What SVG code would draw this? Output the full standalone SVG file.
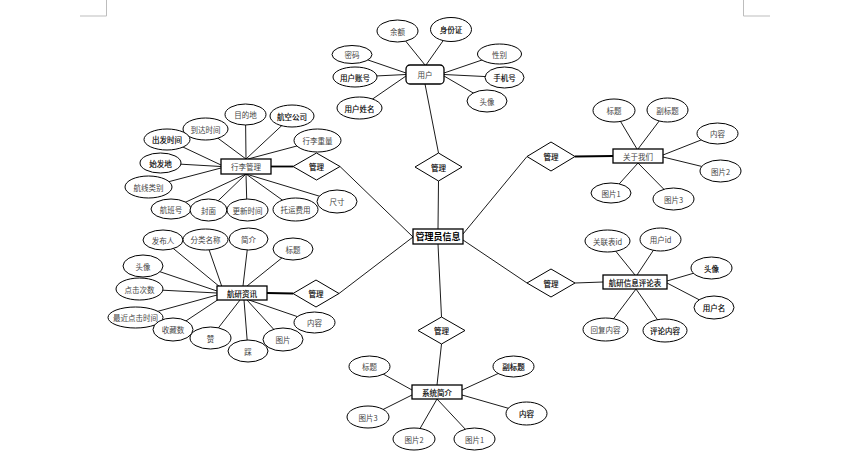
<svg xmlns="http://www.w3.org/2000/svg" width="846" height="459" viewBox="0 0 846 459">
<style>
.e{fill:#fff;stroke:#000;stroke-width:1}
.b{fill:#fff;stroke:#000;stroke-width:1.3}
.d{fill:#fff;stroke:#000;stroke-width:1}
.l{stroke:#000;stroke-width:0.9;fill:none}
.k{stroke:#000;stroke-width:1.8;fill:none}
.c{stroke:#bdbdbd;stroke-width:1;fill:none}
text{font-family:"Noto Sans CJK SC","Noto Sans",sans-serif;font-size:7.5px;text-anchor:middle;dominant-baseline:central;fill:#444}
.m{font-size:9px;font-weight:bold;fill:#000}
.s{fill:#000;stroke:#000;stroke-width:0.15}
</style>
<rect width="846" height="459" fill="#fff"/>
<g id="page-marks">
<polyline class="c" points="106.5,0 106.5,16 80,16"/>
<polyline class="c" points="743.5,0 743.5,16 770,16"/>
</g>
<g id="connectors">
<line class="l" x1="425" y1="84" x2="438.5" y2="153"/>
<line class="l" x1="438.5" y1="181" x2="438" y2="229"/>
<line class="l" x1="340" y1="166.5" x2="413" y2="237"/>
<line class="l" x1="339" y1="293.5" x2="413" y2="237"/>
<line class="l" x1="527" y1="156.5" x2="463" y2="234"/>
<line class="l" x1="527" y1="283" x2="463" y2="240"/>
<line class="l" x1="438" y1="244" x2="441.5" y2="317"/>
<line class="l" x1="441.5" y1="344" x2="437" y2="385"/>
<line class="k" x1="271" y1="166.5" x2="293" y2="166.5"/>
<line class="k" x1="267" y1="293" x2="293" y2="293.5"/>
<line class="k" x1="575" y1="156.5" x2="613" y2="156"/>
<line class="l" x1="575" y1="283" x2="603" y2="282"/>
<line class="l" x1="425" y1="65" x2="397.5" y2="31"/>
<line class="l" x1="426" y1="65" x2="451" y2="29.5"/>
<line class="l" x1="406" y1="73" x2="352" y2="54.5"/>
<line class="l" x1="406" y1="74.5" x2="355" y2="77"/>
<line class="l" x1="406" y1="76" x2="359.5" y2="108"/>
<line class="l" x1="444" y1="73" x2="499.5" y2="54"/>
<line class="l" x1="444" y1="74.5" x2="504.5" y2="77.5"/>
<line class="l" x1="444" y1="76" x2="487" y2="101"/>
<line class="l" x1="246" y1="159" x2="245.5" y2="114.5"/>
<line class="l" x1="246" y1="159" x2="292" y2="116"/>
<line class="l" x1="246" y1="159" x2="205.5" y2="129"/>
<line class="l" x1="248" y1="159" x2="317.5" y2="140.5"/>
<line class="l" x1="221" y1="165" x2="167" y2="139.5"/>
<line class="l" x1="221" y1="166.5" x2="160.5" y2="163"/>
<line class="l" x1="221" y1="168" x2="148.5" y2="187"/>
<line class="l" x1="246" y1="174" x2="171" y2="209"/>
<line class="l" x1="246" y1="174" x2="208.5" y2="210"/>
<line class="l" x1="246" y1="174" x2="247" y2="210"/>
<line class="l" x1="246" y1="174" x2="295.5" y2="209.5"/>
<line class="l" x1="246" y1="174" x2="337" y2="201.5"/>
<line class="l" x1="220" y1="287" x2="163" y2="240"/>
<line class="l" x1="222" y1="287" x2="205.5" y2="239.5"/>
<line class="l" x1="243" y1="286" x2="248.5" y2="239"/>
<line class="l" x1="247" y1="286" x2="293" y2="249"/>
<line class="l" x1="217" y1="291" x2="143" y2="266"/>
<line class="l" x1="217" y1="293" x2="139.5" y2="289"/>
<line class="l" x1="217" y1="295" x2="135.5" y2="317.5"/>
<line class="l" x1="219" y1="299" x2="173" y2="329.5"/>
<line class="l" x1="240" y1="300" x2="210.5" y2="338"/>
<line class="l" x1="244" y1="300" x2="248" y2="351"/>
<line class="l" x1="247" y1="300" x2="283" y2="339.5"/>
<line class="l" x1="249" y1="300" x2="314.5" y2="322.5"/>
<line class="l" x1="637" y1="149" x2="614" y2="110.5"/>
<line class="l" x1="638" y1="149" x2="667.5" y2="110"/>
<line class="l" x1="663" y1="155" x2="717.5" y2="133.5"/>
<line class="l" x1="663" y1="157" x2="720.5" y2="171"/>
<line class="l" x1="638" y1="163" x2="611" y2="193"/>
<line class="l" x1="638" y1="163" x2="673.5" y2="199"/>
<line class="l" x1="635" y1="275" x2="607.5" y2="241"/>
<line class="l" x1="637" y1="275" x2="660.5" y2="239.5"/>
<line class="l" x1="667" y1="281" x2="711.5" y2="268"/>
<line class="l" x1="667" y1="283" x2="714" y2="307.5"/>
<line class="l" x1="636" y1="289" x2="605.5" y2="329.5"/>
<line class="l" x1="636" y1="289" x2="665" y2="330.5"/>
<line class="l" x1="412" y1="390" x2="369.5" y2="366.5"/>
<line class="l" x1="412" y1="395" x2="368" y2="417"/>
<line class="l" x1="462" y1="390" x2="513.5" y2="366.5"/>
<line class="l" x1="462" y1="395" x2="526.5" y2="413.5"/>
<line class="l" x1="437" y1="399" x2="414" y2="439"/>
<line class="l" x1="437" y1="399" x2="474.5" y2="439"/>
</g>
<g id="admin">
<rect class="b" x="413" y="229" width="50" height="15" stroke-width="1.6"/>
<text class="m" x="438" y="236.5">管理员信息</text>
</g>
<g id="rel-user">
<polygon class="d" points="438.5,153 462,167 438.5,181 415,167"/>
<text class="s" x="438.5" y="167">管理</text>
</g>
<g id="rel-luggage">
<polygon class="d" points="316.5,153 340,166.5 316.5,180 293,166.5"/>
<text class="s" x="316.5" y="166.5">管理</text>
</g>
<g id="rel-news">
<polygon class="d" points="316,280 339,293.5 316,307 293,293.5"/>
<text class="s" x="316" y="293.5">管理</text>
</g>
<g id="rel-about">
<polygon class="d" points="551,142 575,156.5 551,171 527,156.5"/>
<text class="s" x="551" y="156.5">管理</text>
</g>
<g id="rel-comment">
<polygon class="d" points="551,269 575,283 551,297 527,283"/>
<text class="s" x="551" y="283">管理</text>
</g>
<g id="rel-system">
<polygon class="d" points="441.5,317 465,330.5 441.5,344 418,330.5"/>
<text class="s" x="441.5" y="330.5">管理</text>
</g>
<g id="user">
<rect class="b" x="406" y="65" width="38" height="19" rx="4"/>
<text x="425" y="74.5">用户</text>
<ellipse class="e" cx="397.5" cy="31" rx="20.5" ry="11"/><text x="397.5" y="31">余额</text>
<ellipse class="e" cx="451" cy="29.5" rx="20.5" ry="12"/><text class="s" x="451" y="29.5">身份证</text>
<ellipse class="e" cx="352" cy="54.5" rx="20" ry="9"/><text x="352" y="54.5">密码</text>
<ellipse class="e" cx="355" cy="77" rx="22" ry="10"/><text class="s" x="355" y="77">用户账号</text>
<ellipse class="e" cx="359.5" cy="108" rx="22.5" ry="11"/><text class="s" x="359.5" y="108">用户姓名</text>
<ellipse class="e" cx="499.5" cy="54" rx="22" ry="10"/><text x="499.5" y="54">性别</text>
<ellipse class="e" cx="504.5" cy="77.5" rx="19.5" ry="10.5"/><text class="s" x="504.5" y="77.5">手机号</text>
<ellipse class="e" cx="487" cy="101" rx="20" ry="11"/><text x="487" y="101">头像</text>
</g>
<g id="luggage">
<rect class="b" x="221" y="159" width="50" height="15"/>
<text x="246" y="166.5">行李管理</text>
<ellipse class="e" cx="245.5" cy="114.5" rx="20.5" ry="10.5"/><text x="245.5" y="114.5">目的地</text>
<ellipse class="e" cx="292" cy="116" rx="22" ry="11"/><text class="s" x="292" y="116">航空公司</text>
<ellipse class="e" cx="205.5" cy="129" rx="22.5" ry="11"/><text x="205.5" y="129">到达时间</text>
<ellipse class="e" cx="167" cy="139.5" rx="23" ry="10.5"/><text class="s" x="167" y="139.5">出发时间</text>
<ellipse class="e" cx="317.5" cy="140.5" rx="23.5" ry="11.5"/><text x="317.5" y="140.5">行李重量</text>
<ellipse class="e" cx="160.5" cy="163" rx="20.5" ry="10"/><text class="s" x="160.5" y="163">始发地</text>
<ellipse class="e" cx="148.5" cy="187" rx="23.5" ry="11"/><text x="148.5" y="187">航线类别</text>
<ellipse class="e" cx="171" cy="209" rx="20" ry="10"/><text x="171" y="209">航班号</text>
<ellipse class="e" cx="208.5" cy="210" rx="18.5" ry="11"/><text x="208.5" y="210">封面</text>
<ellipse class="e" cx="247.5" cy="210" rx="20.5" ry="11"/><text x="247.5" y="210">更新时间</text>
<ellipse class="e" cx="295.5" cy="209.5" rx="22.5" ry="11.5"/><text x="295.5" y="209.5">托运费用</text>
<ellipse class="e" cx="337" cy="201.5" rx="20" ry="11.5"/><text x="337" y="201.5">尺寸</text>
</g>
<g id="news">
<rect class="b" x="217" y="286" width="50" height="14"/>
<text class="s" x="242" y="293">航研资讯</text>
<ellipse class="e" cx="163" cy="240" rx="20" ry="10"/><text x="163" y="240">发布人</text>
<ellipse class="e" cx="205.5" cy="239.5" rx="22.5" ry="10.5"/><text x="205.5" y="239.5">分类名称</text>
<ellipse class="e" cx="248.5" cy="239" rx="19.5" ry="11"/><text x="248.5" y="239">简介</text>
<ellipse class="e" cx="293" cy="249" rx="20" ry="11"/><text x="293" y="249">标题</text>
<ellipse class="e" cx="143" cy="266" rx="20" ry="11"/><text x="143" y="266">头像</text>
<ellipse class="e" cx="139.5" cy="289" rx="23.5" ry="11"/><text x="139.5" y="289">点击次数</text>
<ellipse class="e" cx="135.5" cy="317.5" rx="27.5" ry="10.5"/><text x="135.5" y="317.5">最近点击时间</text>
<ellipse class="e" cx="173" cy="329.5" rx="20" ry="11.5"/><text x="173" y="329.5">收藏数</text>
<ellipse class="e" cx="210.5" cy="338" rx="20.5" ry="11"/><text x="210.5" y="338">赞</text>
<ellipse class="e" cx="248" cy="351" rx="20" ry="11"/><text x="248" y="351">踩</text>
<ellipse class="e" cx="283" cy="339.5" rx="20" ry="11.5"/><text x="283" y="339.5">图片</text>
<ellipse class="e" cx="314.5" cy="322.5" rx="20.5" ry="10.5"/><text x="314.5" y="322.5">内容</text>
</g>
<g id="about">
<rect class="b" x="613" y="149" width="50" height="14"/>
<text x="638" y="156">关于我们</text>
<ellipse class="e" cx="614" cy="110.5" rx="21" ry="11.5"/><text x="614" y="110.5">标题</text>
<ellipse class="e" cx="667.5" cy="110" rx="20.5" ry="12"/><text x="667.5" y="110">副标题</text>
<ellipse class="e" cx="717.5" cy="133.5" rx="20.5" ry="10.5"/><text x="717.5" y="133.5">内容</text>
<ellipse class="e" cx="720.5" cy="171" rx="20.5" ry="11"/><text x="720.5" y="171">图片2</text>
<ellipse class="e" cx="611" cy="193" rx="20" ry="10"/><text x="611" y="193">图片1</text>
<ellipse class="e" cx="673.5" cy="199" rx="20.5" ry="11"/><text x="673.5" y="199">图片3</text>
</g>
<g id="comment">
<rect class="b" x="603" y="275" width="64" height="14"/>
<text class="s" x="635" y="282">航研信息评论表</text>
<ellipse class="e" cx="607.5" cy="241" rx="22.5" ry="11"/><text x="607.5" y="241">关联表id</text>
<ellipse class="e" cx="660.5" cy="239.5" rx="20.5" ry="11.5"/><text x="660.5" y="239.5">用户id</text>
<ellipse class="e" cx="711.5" cy="268" rx="20.5" ry="11"/><text class="s" x="711.5" y="268">头像</text>
<ellipse class="e" cx="714" cy="307.5" rx="20" ry="11.5"/><text class="s" x="714" y="307.5">用户名</text>
<ellipse class="e" cx="605.5" cy="329.5" rx="22.5" ry="11.5"/><text x="605.5" y="329.5">回复内容</text>
<ellipse class="e" cx="665" cy="330.5" rx="22" ry="11.5"/><text class="s" x="665" y="330.5">评论内容</text>
</g>
<g id="system">
<rect class="b" x="412" y="385" width="50" height="14"/>
<text class="s" x="437" y="392">系统简介</text>
<ellipse class="e" cx="369.5" cy="366.5" rx="20.5" ry="10.5"/><text x="369.5" y="366.5">标题</text>
<ellipse class="e" cx="513.5" cy="366.5" rx="20.5" ry="10.5"/><text class="s" x="513.5" y="366.5">副标题</text>
<ellipse class="e" cx="526.5" cy="413.5" rx="20.5" ry="11.5"/><text class="s" x="526.5" y="413.5">内容</text>
<ellipse class="e" cx="368" cy="417" rx="21" ry="11"/><text x="368" y="417">图片3</text>
<ellipse class="e" cx="414" cy="439" rx="21" ry="11"/><text x="414" y="439">图片2</text>
<ellipse class="e" cx="474.5" cy="439" rx="20.5" ry="11"/><text x="474.5" y="439">图片1</text>
</g>
</svg>
